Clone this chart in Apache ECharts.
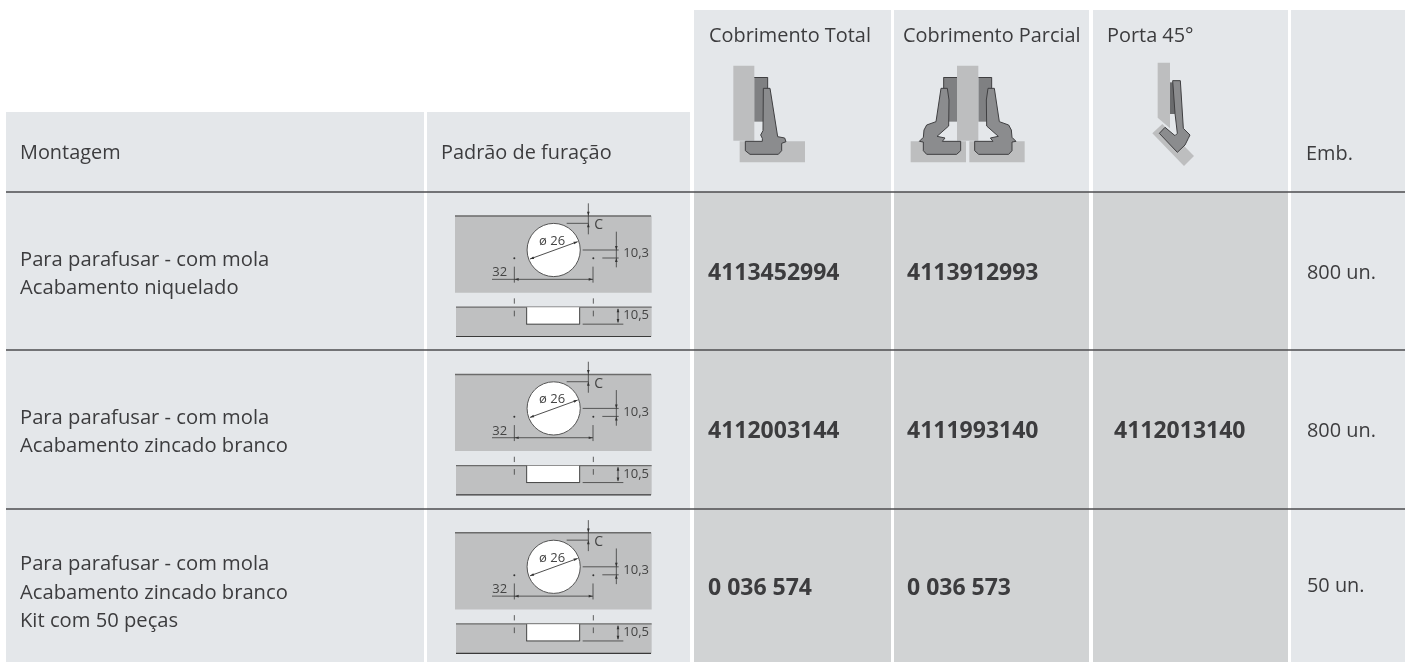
<!DOCTYPE html>
<html><head><meta charset="utf-8">
<style>html,body{margin:0;padding:0;background:#fff}#c{width:1408px;height:662px}</style>
<script src="https://cdn.jsdelivr.net/npm/echarts@6/dist/echarts.min.js"></script>
</head><body><div id="c"></div>
<script>
// ---- table content ----
const headerLabels = ['Montagem','Padrão de furação','Cobrimento Total','Cobrimento Parcial','Porta 45°','Emb.'];
const mountingText = [
  ['Para parafusar - com mola','Acabamento niquelado'],
  ['Para parafusar - com mola','Acabamento zincado branco'],
  ['Para parafusar - com mola','Acabamento zincado branco','Kit com 50 peças']
];
const codesTotal   = ['4113452994','4112003144','0 036 574'];
const codesParcial = ['4113912993','4111993140','0 036 573'];
const codes45      = ['','4112013140',''];
const packaging    = ['800 un.','800 un.','50 un.'];
const drillLabels  = ['ø 26','C','10,3','32','10,5'];

// ---- layout ----
const colEdges = [[6,424],[427,690],[694,891],[894,1089],[1093,1288],[1291,1405]];
const headerTops = [112,112,10,10,10,10];
const ruleYs = [192,350,509];
const bodyBottom = 662;
const rowCenters = [272,430,587];
const rowOffset = [0,158.4,316.8];
const LIGHT='#e4e7ea', MID='#d1d3d4', RULE='#4d4d4f', TEXT='#3c3c3e', PLATE='#bfc0c1';
const FONT='Open Sans';
const TEXT_SHIFT=1.5;

const cells=[];
colEdges.forEach((c,i)=>{
  cells.push([c[0],headerTops[i],c[1],ruleYs[0],LIGHT]);
  cells.push([c[0],ruleYs[0],c[1],bodyBottom,(i>=2&&i<=4)?MID:LIGHT]);
});

const texts=[];
function T(x,y,s,size,weight){texts.push({x,y:y+TEXT_SHIFT,s,size,weight:weight||'normal'});}
const HS=19.9, BS=20.2;
T(20,152,headerLabels[0],HS);T(441,152,headerLabels[1],HS);
T(709,35,headerLabels[2],HS);T(903,35,headerLabels[3],HS);T(1107,35,headerLabels[4],HS);
T(1306,153,headerLabels[5],HS);
const rowTextY=[[259,287],[417,445],[563,592,620]];
mountingText.forEach((ls,r)=>ls.forEach((l,k)=>T(20,rowTextY[r][k],l,BS)));
[codesTotal,codesParcial,codes45].forEach((col,k)=>col.forEach((s,r)=>{
  if(s)T([708,907,1114][k],rowCenters[r],s,23,'bold');
}));
packaging.forEach((s,r)=>T(1307,rowCenters[r]-(r==2?2:0),s,HS));

// zoom-unit helpers: drawings were measured at 3x from an origin
function mapper(api,ox,oy){return (x,y)=>api.coord([ox+x/3,oy+y/3]);}
function poly(m,pts,fill,stroke,lw){return {type:'polygon',shape:{points:pts.map(p=>m(p[0],p[1]))},style:{fill:fill,stroke:stroke||null,lineWidth:lw||0}};}
function line(m,a,b,c,d,stroke,lw){const p=m(a,b),q=m(c,d);return {type:'line',shape:{x1:p[0],y1:p[1],x2:q[0],y2:q[1]},style:{stroke:stroke||'#3a3a3a',lineWidth:lw||1}};}
function rect(m,a,b,c,d,fill){return poly(m,[[a,b],[c,b],[c,d],[a,d]],fill);}
function arrow(m,x,y,dx,dy){const s=12,w=4;const n=Math.hypot(dx,dy),ux=dx/n,uy=dy/n;
  return poly(m,[[x,y],[x-ux*s-uy*w,y-uy*s+ux*w],[x-ux*s+uy*w,y-uy*s-ux*w]],'#333');}

function diagram(m,dy){
  const L='#3a3a3a',out=[];
  out.push(rect(m,75,62,665,293,PLATE));
  out.push(line(m,75,63,663,63,'#6b6b6b',1.5));
  out.push(rect(m,78,336,665,425,PLATE));
  out.push(line(m,78,336.5,665,336.5,'#6b6b6b',1.2));
  out.push(line(m,78,424.5,663,424.5,'#3a3a3a',1.2));
  const c=m(371,165);
  out.push({type:'circle',shape:{cx:c[0],cy:c[1],r:26.6},style:{fill:'#fff',stroke:'#555',lineWidth:1}});
  out.push(rect(m,290,337,449,387,'#fff'));
  out.push(line(m,290,337,290,388,'#444',1));out.push(line(m,289,387.5,449,387.5,'#444',1));out.push(line(m,449,337,449,388,'#444',1));
  // C
  out.push(line(m,475,25,475,118,L,.8));out.push(line(m,410,85,475,85,L,.8));
  out.push(arrow(m,475,62,0,1));out.push(arrow(m,475,85,0,-1));
  // 10,3
  out.push(line(m,559,110,559,217,L,.8));out.push(line(m,458,165,566,165,L,.8));out.push(line(m,517,189,566,189,L,.8));
  out.push(arrow(m,559,165,0,1));out.push(arrow(m,559,189,0,-1));
  // ø
  out.push(line(m,300,192,443,140,L,.9));
  out.push(arrow(m,300,192,-.94,.34));out.push(arrow(m,443,140,.94,-.34));
  // 32
  out.push(line(m,253,215,253,263,L,.8));out.push(line(m,489,215,489,263,L,.8));out.push(line(m,186,253,489,253,L,.8));
  out.push(arrow(m,254,253,-1,0));out.push(arrow(m,488,253,1,0));
  // dots
  [[253,190],[490,190]].forEach(p=>{const q=m(p[0],p[1]);out.push({type:'circle',shape:{cx:q[0],cy:q[1],r:1},style:{fill:'#333'}});});
  // ticks
  [253,490].forEach(x=>{out.push(line(m,x,310,x,326,L,.8));out.push(line(m,x,347,x,364,L,.8));});
  // 10,5
  out.push(line(m,564,342,564,382,L,.9));out.push(line(m,458,387.5,580,387.5,L,.8));
  out.push(arrow(m,564,340,0,-1));out.push(arrow(m,564,384,0,1));
  // labels
  const lb=(x,y,s,sz,al)=>{const q=m(x,y);out.push({type:'text',x:q[0],y:q[1],style:{text:s,fontFamily:'Open Sans',fontSize:sz,fill:'#444',textAlign:al||'left',textVerticalAlign:'middle',align:al||'left',verticalAlign:'middle'}});};
  lb(327,138,drillLabels[0],13);lb(493,91,drillLabels[1],14);lb(580,176,drillLabels[2],13);lb(187,233,drillLabels[3],13);lb(580,362,drillLabels[4],13);
  return out;
}
const HINGE='#8b8c8e',OUT='#3f3f41',DOOR='#bdbebf',CUP='#7f8082';
function iconTotal(m){return [
  rect(m,100,197,163,422,DOOR),rect(m,119,424,315,487,DOOR),
  poly(m,[[163,232],[203,232],[203,365],[163,365]],CUP),line(m,163,232.5,203,232.5,OUT,1),line(m,203,232,203,300,OUT,1),
  poly(m,[[190,265],[210,265],[233,410],[254,414],[258,425],[245,430],[245,452],[235,463],[150,463],[136,452],[136,424],[187,424],[187,415],[182,405],[189,392]],HINGE,OUT,1)
];}
function leftHinge(x){return [[742,265],[723,265],[708,365],[680,375],[672,390],[670,412],[658,424],[670,426],[670,452],[680,463],[770,463],[782,452],[782,424],[727,424],[735,414],[711,409],[746,378],[747,300]].map(p=>x?[1606-p[0],p[1]]:p);}
function iconParcial(m){return [
  rect(m,632,424,798,487,DOOR),rect(m,808,424,974,487,DOOR),
  rect(m,731,232,771,365,CUP),rect(m,835,232,875,365,CUP),
  line(m,731,232.5,771,232.5,OUT,1),line(m,731,232,731,300,OUT,1),line(m,835,232.5,875,232.5,OUT,1),line(m,875,232,875,300,OUT,1),
  rect(m,771,197,835,422,DOOR),
  poly(m,leftHinge(false),HINGE,OUT,1),poly(m,leftHinge(true),HINGE,OUT,1)
];}
function icon45(m){return [
  poly(m,[[473,188],[510,188],[510,385],[473,353]],DOOR),
  poly(m,[[457,400],[487,372],[582,468],[552,498]],DOOR),
  rect(m,510,247,525,342,'#6a6b6d'),
  poly(m,[[518,242],[541,242],[550,385],[570,405],[565,415],[555,435],[532,457],[478,400],[495,382],[525,407],[532,400],[525,340]],HINGE,OUT,1)
];}

const option={
  animation:false,backgroundColor:'#fff',
  grid:{left:0,right:0,top:0,bottom:0},
  xAxis:{type:'value',min:0,max:1408,show:false},
  yAxis:{type:'value',min:0,max:662,inverse:true,show:false},
  series:[
    {type:'custom',silent:true,clip:false,coordinateSystem:'cartesian2d',z:1,
     data:cells.map(c=>c.slice(0,4)),
     renderItem:(p,api)=>{const a=api.coord([api.value(0),api.value(1)]),b=api.coord([api.value(2),api.value(3)]);
       return {type:'rect',shape:{x:a[0],y:a[1],width:b[0]-a[0],height:b[1]-a[1]},style:{fill:cells[p.dataIndex][4]}};}},
    {type:'custom',silent:true,clip:false,z:2,data:ruleYs.map(y=>[y]),
     renderItem:(p,api)=>{const a=api.coord([6,api.value(0)]),b=api.coord([1405,api.value(0)]);
       return {type:'line',shape:{x1:a[0],y1:a[1],x2:b[0],y2:b[1]},style:{stroke:RULE,lineWidth:1.6}};}},
    {type:'custom',silent:true,clip:false,z:3,data:rowOffset.map(o=>[o]),
     renderItem:(p,api)=>({type:'group',children:diagram(mapper(api,430,195+api.value(0)))})},
    {type:'custom',silent:true,clip:false,z:3,data:[[0],[1],[2]],
     renderItem:(p,api)=>{const i=api.value(0);
       const m=i==2?mapper(api,1000,0):mapper(api,700,0);
       return {type:'group',children:[iconTotal,iconParcial,icon45][i](m)};}},
    {type:'custom',silent:true,clip:false,z:4,data:texts.map(t=>[t.x,t.y]),
     renderItem:(p,api)=>{const t=texts[p.dataIndex],q=api.coord([api.value(0),api.value(1)]);
       return {type:'text',x:q[0],y:q[1],style:{text:t.s,fontFamily:FONT,fontSize:t.size,fontWeight:t.weight,fill:TEXT,textAlign:'left',textVerticalAlign:'middle',align:'left',verticalAlign:'middle'}};}}
  ]
};
echarts.init(document.getElementById('c'),null,{renderer:'canvas'}).setOption(option);
</script></body></html>
